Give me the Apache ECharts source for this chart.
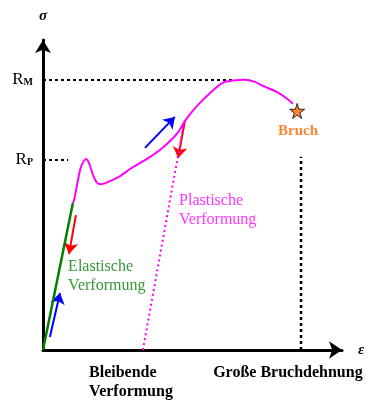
<!DOCTYPE html>
<html>
<head>
<meta charset="utf-8">
<script src="https://cdn.jsdelivr.net/npm/echarts@6/dist/echarts.min.js"></script>
<style>
html,body{margin:0;padding:0;background:#fff;}
#chart{width:388px;height:408px;}
</style>
</head>
<body>
<div id="chart"></div>
<script>
// ---- Data (arbitrary strain / stress units) ----
const elasticLine = [[0, 0], [10.0, 47.4]];
const stressCurve = [
  [10.0, 47.4], [10.4, 48.4], [11.7, 54.8], [12.4, 58.1], [13.4, 60.6], [14.4, 61.6],
  [15.4, 60.3], [16.7, 56.5], [18.1, 53.9], [19.4, 53.5], [22.4, 54.5], [25.8, 56.1],
  [29.1, 58.4], [32.4, 60.3], [35.8, 62.3], [39.1, 64.5], [42.5, 67.4], [45.2, 70.3],
  [47.5, 73.9], [49.8, 76.8], [52.5, 79.7], [55.9, 82.9], [59.9, 86.1], [63.5, 86.9],
  [67.6, 87.2], [70.9, 86.5], [73.6, 85.2], [78.3, 83.2], [81.3, 81.3], [83.6, 79.4]
];
const plasticUnload = [[33.4, 0], [47.2, 73.6]];
const fractureStrain = [[86.3, 0], [86.3, 62.3]];
const breakPoint = [[85.0, 77.1]];
const Rm = 87.1;
const Rp = 61.3;
const RmLine = [[0, Rm], [63.5, Rm]];
const RpLine = [[0, Rp], [8.4, Rp]];
const yTickValues = [Rp, Rm];
const yTickNames = ['{r|R}{s|P}', '{r|R}{s|M}'];
const blueArrows = [
  [[2.3, 4.2], [5.7, 18.4]],
  [[34.1, 65.2], [44.1, 75.2]]
];
const redArrows = [
  [[11.0, 43.5], [8.7, 31.0]],
  [[47.5, 74.2], [45.2, 61.9]]
];
const xLabelValues = [15.4, 56.9];
const xLabelNames = ['Bleibende\nVerformung', 'Große Bruchdehnung'];
const textNotes = [
  { name: 'Elastische\nVerformung', value: [8.4, 23.7] },
  { name: 'Plastische\nVerformung', value: [45.5, 45.2] },
  { name: 'Bruch', value: [85.3, 70.6] }
];

const serif = '"Liberation Serif", "Times New Roman", serif';
const chart = echarts.init(document.getElementById('chart'));
const STAR = 'path://M50,0 L61,35 L98,35 L68,57 L79,91 L50,70 L21,91 L32,57 L2,35 L39,35 Z';

chart.setOption({
  animation: false,
  backgroundColor: '#fff',
  grid: { left: 43, right: 46, top: 40, bottom: 58, containLabel: false },
  xAxis: {
    type: 'value', min: 0, max: 100,
    splitLine: { show: false },
    axisTick: { show: false },
    axisLine: { lineStyle: { color: '#000', width: 3 }, symbol: ['none', 'arrow'], symbolSize: [13, 13] },
    name: 'ε', nameLocation: 'end', nameGap: 16,
    nameTextStyle: { fontFamily: serif, fontSize: 15, fontStyle: 'italic', fontWeight: 'bold', color: '#000', verticalAlign: 'middle', padding: [0, 0, 3, 0] },
    axisLabel: {
      customValues: xLabelValues,
      formatter: function (v) { const i = xLabelValues.indexOf(v); return i >= 0 ? xLabelNames[i] : ''; },
      align: 'left', verticalAlign: 'top', margin: 13, lineHeight: 19,
      fontFamily: serif, fontSize: 16, fontWeight: 'bold', color: '#000'
    }
  },
  yAxis: {
    type: 'value', min: 0, max: 100,
    splitLine: { show: false },
    axisTick: { show: false },
    axisLine: { lineStyle: { color: '#000', width: 3 }, symbol: ['none', 'arrow'], symbolSize: [12, 13] },
    name: 'σ', nameLocation: 'end', nameGap: 16,
    nameTextStyle: { fontFamily: serif, fontSize: 15, fontStyle: 'italic', fontWeight: 'bold', color: '#000', align: 'center' },
    axisLabel: {
      customValues: yTickValues,
      formatter: function (v) { const i = yTickValues.indexOf(v); return i >= 0 ? yTickNames[i] : ''; },
      margin: 10,
      rich: {
        r: { fontFamily: serif, fontSize: 17, color: '#000', verticalAlign: 'bottom' },
        s: { fontFamily: serif, fontSize: 10, fontWeight: 'bold', color: '#000', verticalAlign: 'top', padding: [6, 0, 0, 0] }
      }
    }
  },
  series: [
    { type: 'line', data: RmLine, symbol: 'none', lineStyle: { color: '#000', width: 2, type: [3, 3] }, silent: true },
    { type: 'line', data: RpLine, symbol: 'none', lineStyle: { color: '#000', width: 2, type: [3, 3] }, silent: true },
    { type: 'line', data: fractureStrain, symbol: 'none', lineStyle: { color: '#000', width: 2.5, type: [3, 3] }, silent: true },
    { type: 'line', data: plasticUnload, symbol: 'none', lineStyle: { color: '#ff00ff', width: 2, type: [2, 3] }, silent: true },
    { type: 'line', data: elasticLine, symbol: 'none', lineStyle: { color: '#008000', width: 2.5 }, silent: true },
    { type: 'line', data: stressCurve, symbol: 'none', smooth: 0.3, lineStyle: { color: '#ff00ff', width: 2 }, silent: true },
    {
      type: 'lines', coordinateSystem: 'cartesian2d', silent: true,
      symbol: ['none', 'arrow'], symbolSize: 11,
      lineStyle: { color: '#0000ff', width: 2, opacity: 1 },
      data: blueArrows.map(function (c) { return { coords: c }; })
    },
    {
      type: 'lines', coordinateSystem: 'cartesian2d', silent: true,
      symbol: ['none', 'arrow'], symbolSize: 11,
      lineStyle: { color: '#ff0000', width: 2, opacity: 1 },
      data: redArrows.map(function (c) { return { coords: c }; })
    },
    {
      type: 'scatter', data: breakPoint, symbol: STAR, symbolSize: 15, silent: true,
      itemStyle: { color: '#ff6600', borderColor: '#000', borderWidth: 1 }
    },
    {
      type: 'scatter', symbolSize: 0, silent: true,
      data: [
        { name: textNotes[0].name, value: textNotes[0].value, label: { show: true, position: 'inside', align: 'left', verticalAlign: 'middle', formatter: '{b}', color: '#008000', fontFamily: serif, fontSize: 16, lineHeight: 19 } },
        { name: textNotes[1].name, value: textNotes[1].value, label: { show: true, position: 'inside', align: 'left', verticalAlign: 'middle', formatter: '{b}', color: '#ff00ff', fontFamily: serif, fontSize: 16, lineHeight: 19 } },
        { name: textNotes[2].name, value: textNotes[2].value, label: { show: true, position: 'inside', align: 'center', verticalAlign: 'middle', formatter: '{b}', color: '#ff6600', fontFamily: serif, fontSize: 15, fontWeight: 'bold' } }
      ]
    }
  ]
});
</script>
</body>
</html>
